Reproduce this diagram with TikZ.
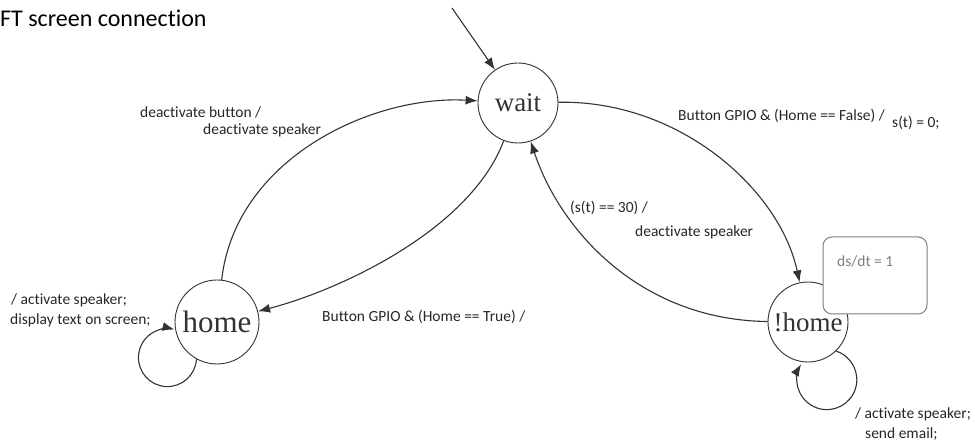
\documentclass[tikz,border=0pt]{standalone}
\usepackage{fontspec}
\setmainfont{Carlito}[Ligatures={NoCommon}]
\newfontfamily\statefont{Liberation Serif}
\usetikzlibrary{arrows.meta}
\definecolor{ink}{HTML}{333333}
\definecolor{txt}{HTML}{262626}
\definecolor{boxgray}{HTML}{7F7F7F}
\tikzset{
  state/.style={circle,draw=ink,line width=0.9pt,minimum size=80pt,inner sep=0pt,fill=white,text=ink},
  conn/.style={draw=ink,line width=1.1pt,-{Latex[length=12pt,width=9pt]}},
  lbl/.style={anchor=base west,inner sep=0pt,font=\fontsize{15.5}{18}\selectfont,text=txt},
}
\begin{document}
\begin{tikzpicture}[x=1pt,y=-1pt]
\useasboundingbox (0,0) rectangle (975,446);
\node[anchor=base west,inner sep=0pt,font=\fontsize{24}{28}\selectfont,text=black] (title) at (0,27) {FT screen connection};

\node[state,font=\statefont\fontsize{27}{30}\selectfont] (wait) at (518,103) {wait};
\node[state,minimum size=84pt,font=\statefont\fontsize{31}{34}\selectfont] (home) at (217,322) {home};
\node[state,font=\statefont\fontsize{27}{30}\selectfont] (nhome) at (808,322) {!home};
\node[draw=boxgray,line width=1pt,rounded corners=9pt,fill=white,minimum width=104pt,minimum height=77pt,inner sep=0pt] (note) at (875,275.5) {};
\node[anchor=base west,inner sep=0pt,font=\fontsize{15.5}{18}\selectfont,text=boxgray] (notetext) at (837,266.5) {ds/dt = 1};

\coordinate (init) at (452,8);
\draw[conn] (init) -- (wait);
\draw[conn] (home) .. controls (235,160) and (370,95) .. (wait);
\draw[conn] (wait) .. controls (470,230) and (340,290) .. (home);
\draw[conn] (wait) .. controls (680,100) and (780,190) .. (nhome);
\draw[conn] (nhome) .. controls (640,320) and (560,230) .. (wait);
\draw[conn] (home.241) arc[start angle=3,end angle=284,radius=29];
\draw[conn] (nhome.314) arc[start angle=288,end angle=571,radius=30];

\node[lbl] (l1a) at (140,118) {deactivate button /};
\node[lbl] (l1b) at (203,135) {deactivate speaker};
\node[lbl] (l2a) at (678,121) {Button GPIO \& (Home == False) /};
\node[lbl] (l2b) at (892,128) {s(t) = 0;};
\node[lbl] (l3a) at (570,213) {(s(t) == 30) /};
\node[lbl] (l3b) at (635,237) {deactivate speaker};
\node[lbl] (l4a) at (11,305) {/ activate speaker;};
\node[lbl] (l4b) at (10,325) {display text on screen;};
\node[lbl] (l5) at (322,322) {Button GPIO \& (Home == True) /};
\node[lbl] (l6a) at (855,418) {/ activate speaker;};
\node[lbl] (l6b) at (865,438) {send email;};
\end{tikzpicture}
\end{document}
